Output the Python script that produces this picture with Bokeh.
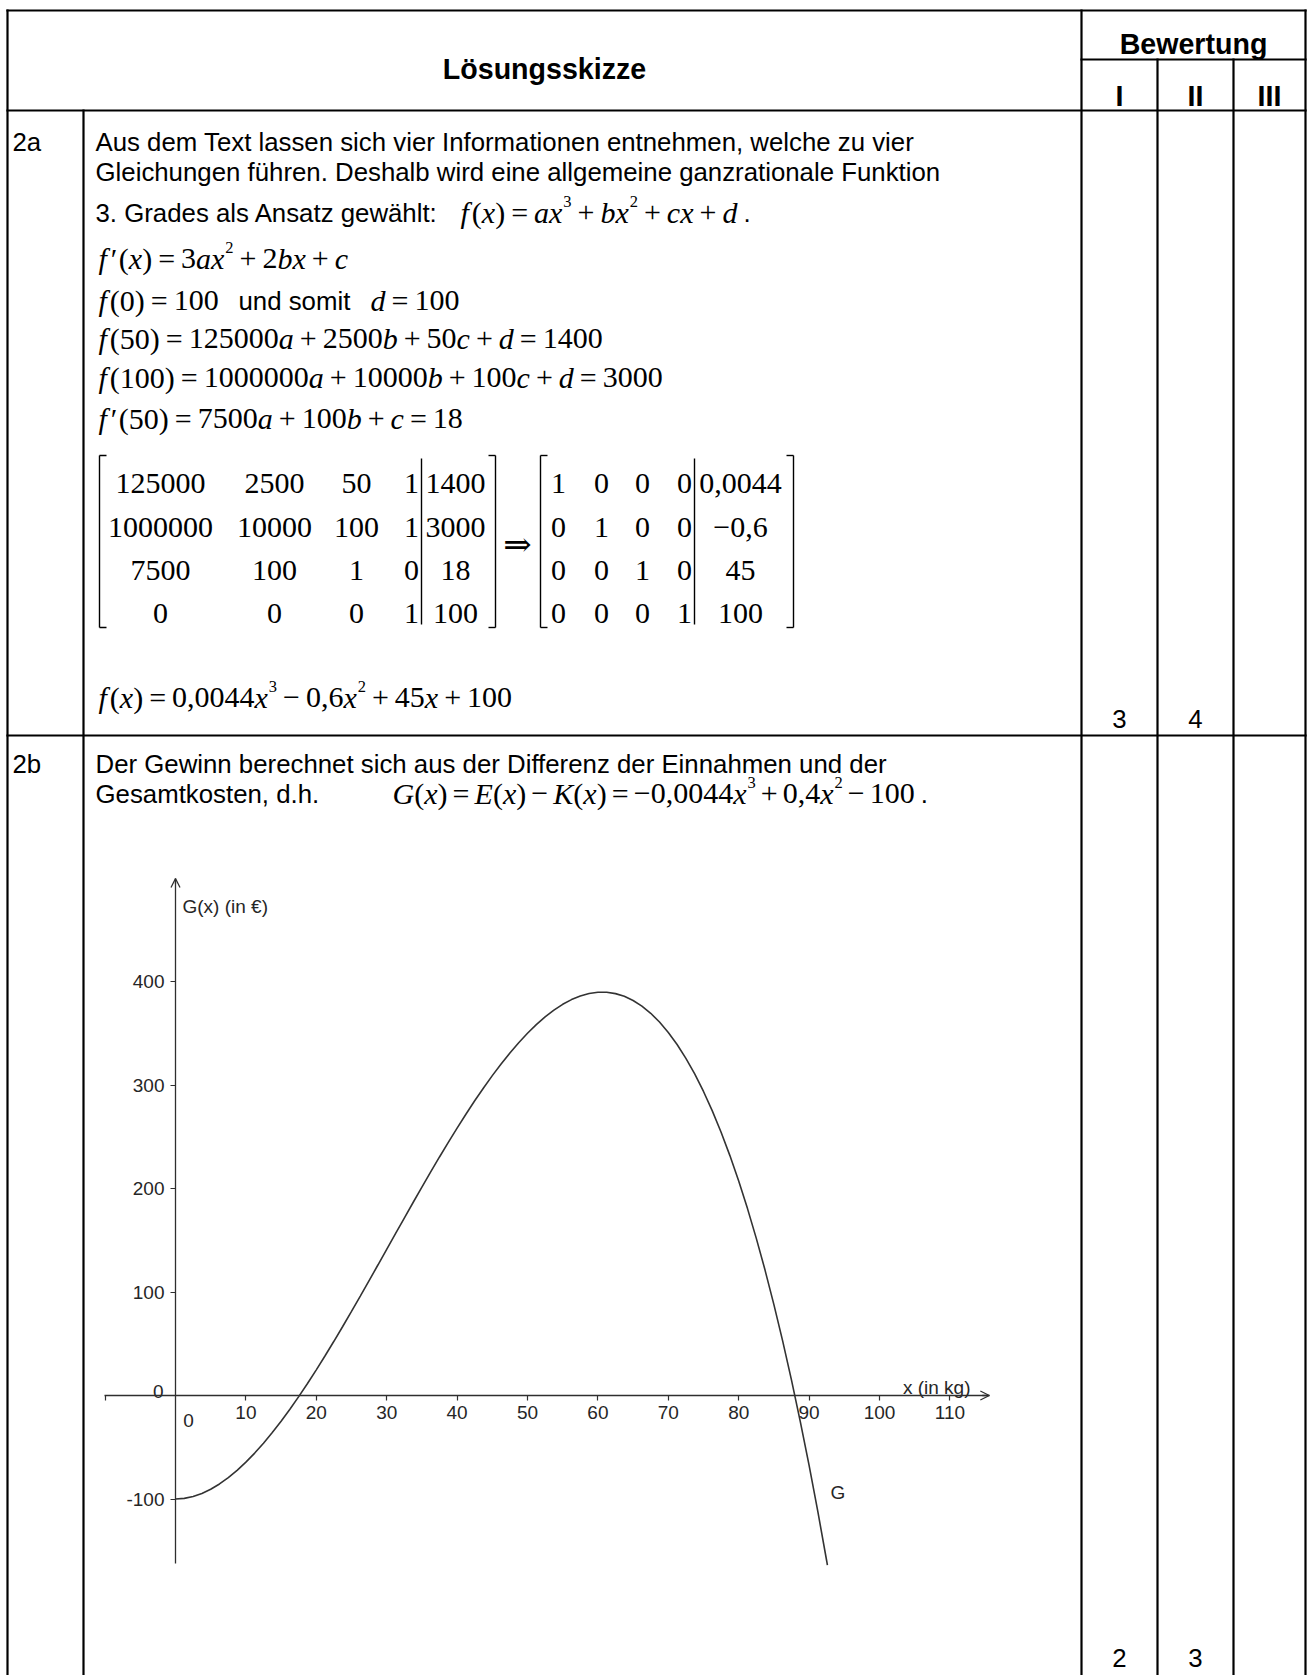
from bokeh.plotting import figure
from bokeh.models import Range1d, LinearAxis, FixedTicker, Arrow, OpenHead, ColumnDataSource
from bokeh.core.properties import value, field
from bokeh.embed import file_html
from bokeh.resources import INLINE

# ---------------- chart data: profit G(x) in EUR over x in kg ----------------
G_X = [0, 1.25, 2.5, 3.75, 5, 6.25, 7.5, 8.75, 10, 11.25, 12.5, 13.75, 15, 16.25, 17.5,
       18.75, 20, 21.25, 22.5, 23.75, 25, 26.25, 27.5, 28.75, 30, 31.25, 32.5, 33.75,
       35, 36.25, 37.5, 38.75, 40, 41.25, 42.5, 43.75, 45, 46.25, 47.5, 48.75, 50,
       51.25, 52.5, 53.75, 55, 56.25, 57.5, 58.75, 60, 61.25, 62.5, 63.75, 65, 66.25,
       67.5, 68.75, 70, 71.25, 72.5, 73.75, 75, 76.25, 77.5, 78.75, 80, 81.25, 82.5,
       83.75, 85, 86.25, 87.5, 88.75, 90, 91.25, 92.5, 92.6]
G_Y = [-100, -99.38, -97.57, -94.61, -90.55, -85.45, -79.36, -72.32, -64.4, -55.64,
       -46.09, -35.81, -24.85, -13.26, -1.08, 11.62, 24.8, 38.4, 52.38, 66.68, 81.25,
       96.04, 110.99, 126.07, 141.2, 156.35, 171.46, 186.47, 201.35, 216.03, 230.47,
       244.61, 258.4, 271.79, 284.73, 297.17, 309.05, 320.33, 330.94, 340.85, 350.0,
       358.34, 365.81, 372.36, 377.95, 382.52, 386.02, 388.4, 389.6, 389.58, 388.28,
       385.66, 381.65, 376.21, 369.29, 360.84, 350.8, 339.12, 325.76, 310.65, 293.75,
       275.01, 254.37, 231.78, 207.2, 180.57, 151.83, 120.94, 87.85, 52.5, 14.84,
       -25.17, -67.6, -112.49, -159.89, -163.8]
X_TICKS = [-10, 10, 20, 30, 40, 50, 60, 70, 80, 90, 100, 110]
X_TICK_LABELS = {-10: ""}
Y_TICKS = [-100, 100, 200, 300, 400]
Y_TICK_LABELS = {-100: "-100"}
X_BOUNDS = (-10.1, 115.6)
Y_BOUNDS = (-162.3, 499.5)
X_AXIS_LABEL = "x (in kg)"
Y_AXIS_LABEL = "G(x) (in €)"
CURVE_LABEL = "G"

# ---------------- table content ----------------
LEVELS = ["I", "II", "III"]
SCORES_2A = ["3", "4", ""]
SCORES_2B = ["2", "3", ""]
MATRIX_LEFT = [["125000", "2500", "50", "1", "1400"],
               ["1000000", "10000", "100", "1", "3000"],
               ["7500", "100", "1", "0", "18"],
               ["0", "0", "0", "1", "100"]]
MATRIX_RIGHT = [["1", "0", "0", "0", "0,0044"],
                ["0", "1", "0", "0", "−0,6"],
                ["0", "0", "1", "0", "45"],
                ["0", "0", "0", "1", "100"]]

# ---------------- page-pixel <-> chart-unit mapping ----------------
X0, Y0, SX, SY = 175.0, 1395.0, 7.04, 1.035


def X(px):
    return (px - X0) / SX


def Y(py):
    return (Y0 - py) / SY


W, H = 1308, 1675
p = figure(width=W, height=H, x_range=Range1d(X(0), X(W)), y_range=Range1d(Y(H), Y(0)),
           output_backend="svg", toolbar_location=None, x_axis_location=None, y_axis_location=None,
           min_border=0, outline_line_color=None)
p.xgrid.visible = False
p.ygrid.visible = False

SANS = "Liberation Sans"
SERIF = "Liberation Serif"
BODY = 25.8
MATH = 30.0
INK = "#000000"
AX = "#2e2e2e"

groups = {}


def T(xp, yp, s, font=SANS, size=BODY, style="normal", align="left", color=INK, baseline="alphabetic"):
    key = (font, style, align, color, baseline)
    g = groups.setdefault(key, dict(x=[], y=[], text=[], fs=[]))
    g["x"].append(X(xp))
    g["y"].append(Y(yp))
    g["text"].append(s)
    g["fs"].append(f"{size:.1f}px")


RW = {str(d): 500 for d in range(10)}
RW.update({"(": 333, ")": 333, ",": 250, ".": 250, "=": 564, "+": 564, "−": 564})
IW = {"a": 500, "b": 500, "c": 444, "d": 500, "f": 278, "x": 444, "E": 611, "K": 667, "G": 722}


def M(xp, yp, s, size=MATH, gap=0.2):
    x = xp
    i = 0
    while i < len(s):
        c = s[i]
        if c == "^":
            sup = s[i + 1]
            x += 0.03 * size
            T(x, yp - 0.36 * size, sup, font=SERIF, size=size * 0.55)
            x += RW[sup] * size * 0.55 / 1000
            i += 2
            continue
        if c in "=+−":
            x += gap * size
            T(x, yp, c, font=SERIF, size=size)
            x += RW[c] * size / 1000 + gap * size
        elif c == "-":
            T(x, yp, "−", font=SERIF, size=size)
            x += 564 * size / 1000
        elif c == "'":
            T(x + 0.03 * size, yp, "′", font=SERIF, size=size)
            x += 300 * size / 1000
        elif c.isalpha():
            T(x, yp, c, font=SERIF, size=size, style="italic")
            x += IW[c] * size / 1000 + (0.1 * size if c == "f" else 0)
        else:
            j = i
            while j < len(s) and (s[j].isdigit() or s[j] in "(),."):
                j += 1
            run = s[i:j]
            T(x, yp, run, font=SERIF, size=size)
            x += sum(RW[ch] for ch in run) * size / 1000
            i = j
            continue
        i += 1
    return x


# ---------------- table grid ----------------
hl = [(7, 10, 1305, 10), (1081, 59, 1305, 59), (7, 110, 1305, 110), (7, 735, 1305, 735)]
vl = [(7, 10, 7, 1690), (83, 110, 83, 1690), (1081, 10, 1081, 1690), (1157, 59, 1157, 1690),
      (1233, 59, 1233, 1690), (1305, 10, 1305, 1690)]
segs = hl + vl
p.segment(x0=[X(s[0]) for s in segs], y0=[Y(s[1]) for s in segs],
          x1=[X(s[2]) for s in segs], y1=[Y(s[3]) for s in segs],
          line_color="black", line_width=2.2, line_cap="square")

# header
HB = 28.6
T(544, 68, "Lösungsskizze", size=HB, style="bold", align="center")
T(1193, 43, "Bewertung", size=HB, style="bold", align="center")
COLS = [1119, 1195, 1269]
for cx, lv in zip(COLS, LEVELS):
    T(cx, 95, lv, size=HB, style="bold", align="center")

# ---------------- row 2a ----------------
T(12, 141, "2a")
T(95, 141, "Aus dem Text lassen sich vier Informationen entnehmen, welche zu vier")
T(95, 171, "Gleichungen führen. Deshalb wird eine allgemeine ganzrationale Funktion")
T(95, 212, "3. Grades als Ansatz gewählt:")
e = M(460, 212, "f(x)=ax^3+bx^2+cx+d")
T(e + 6, 212, ".")
M(98, 258, "f'(x)=3ax^2+2bx+c")
M(98, 300, "f(0)=100")
T(238, 300, "und somit")
M(370, 300, "d=100")
M(98, 338, "f(50)=125000a+2500b+50c+d=1400")
M(98, 377, "f(100)=1000000a+10000b+100c+d=3000")
M(98, 418, "f'(50)=7500a+100b+c=18")

ROWS_B = [483, 527, 570, 613]
COLS_L = [160, 274, 356, 411, 455]
COLS_R = [558, 601, 642, 684, 740]
for rb, rowl, rowr in zip(ROWS_B, MATRIX_LEFT, MATRIX_RIGHT):
    for cx, v in zip(COLS_L, rowl):
        T(cx, rb, v, font=SERIF, size=MATH, align="center")
    for cx, v in zip(COLS_R, rowr):
        T(cx, rb, v, font=SERIF, size=MATH, align="center")

bt, bb = 455, 627
br = []
for xl in (99, 540):
    br += [(xl, bt, xl, bb), (xl, bt, xl + 7, bt), (xl, bb, xl + 7, bb)]
for xr in (495, 793):
    br += [(xr, bt, xr, bb), (xr, bt, xr - 7, bt), (xr, bb, xr - 7, bb)]
br += [(421, 458, 421, 624), (694, 458, 694, 624)]
p.segment(x0=[X(s[0]) for s in br], y0=[Y(s[1]) for s in br],
          x1=[X(s[2]) for s in br], y1=[Y(s[3]) for s in br],
          line_color="black", line_width=1.4)
T(517, 543, "⇒", font="DejaVu Serif", size=34, align="center", baseline="middle")

M(98, 697, "f(x)=0,0044x^3−0,6x^2+45x+100")
for cx, sc in zip(COLS, SCORES_2A):
    if sc:
        T(cx, 718, sc, align="center")

# ---------------- row 2b ----------------
T(12, 763, "2b")
T(95, 763, "Der Gewinn berechnet sich aus der Differenz der Einnahmen und der")
T(95, 793, "Gesamtkosten, d.h.")
e = M(392, 793, "G(x)=E(x)−K(x)=-0,0044x^3+0,4x^2−100", gap=0.17)
T(e + 6, 793, ".")
for cx, sc in zip(COLS, SCORES_2B):
    if sc:
        T(cx, 1657, sc, align="center")

# ---------------- chart ----------------
LAB = "#262626"
LFS = "19px"
xaxis = LinearAxis(fixed_location=0, bounds=X_BOUNDS, ticker=FixedTicker(ticks=X_TICKS),
                   major_label_overrides=X_TICK_LABELS,
                   axis_line_color=AX, axis_line_width=1.3,
                   major_tick_line_color=AX, major_tick_line_width=1.2,
                   major_tick_out=5, major_tick_in=0, minor_tick_out=0, minor_tick_in=0,
                   major_label_text_font=SANS, major_label_text_font_size=LFS,
                   major_label_text_color=LAB, major_label_standoff=5)
yaxis = LinearAxis(fixed_location=0, bounds=Y_BOUNDS, ticker=FixedTicker(ticks=Y_TICKS),
                   major_label_overrides=Y_TICK_LABELS,
                   axis_line_color=AX, axis_line_width=1.3,
                   major_tick_line_color=AX, major_tick_line_width=1.2,
                   major_tick_out=5, major_tick_in=0, minor_tick_out=0, minor_tick_in=0,
                   major_label_text_font=SANS, major_label_text_font_size=LFS,
                   major_label_text_color=LAB, major_label_standoff=6)
p.add_layout(xaxis, "below")
p.add_layout(yaxis, "left")
p.add_layout(Arrow(end=OpenHead(size=9, line_color=AX, line_width=1.3),
                   x_start=X_BOUNDS[1] - 1, y_start=0, x_end=X_BOUNDS[1], y_end=0,
                   line_color=AX, line_width=1.3))
p.add_layout(Arrow(end=OpenHead(size=9, line_color=AX, line_width=1.3),
                   x_start=0, y_start=Y_BOUNDS[1] - 5, x_end=0, y_end=Y_BOUNDS[1],
                   line_color=AX, line_width=1.3))

p.line(G_X, G_Y, line_color="#333333", line_width=1.6)

T(182, 906, Y_AXIS_LABEL, size=19, color=LAB)
T(970, 1387, X_AXIS_LABEL, size=19, color=LAB, align="right")
T(188, 1420, "0", size=19, color=LAB, align="center")
T(163, 1391, "0", size=19, color=LAB, align="right")
T(830, 1492, CURVE_LABEL, size=19, color=LAB)

for (font, style, align, color, baseline), g in groups.items():
    p.text(x="x", y="y", text="text", source=ColumnDataSource(g), text_font=value(font),
           text_font_style=style, text_font_size=field("fs"), text_align=align,
           text_baseline=baseline, text_color=color)

open("out.html", "w").write(file_html(p, INLINE))
